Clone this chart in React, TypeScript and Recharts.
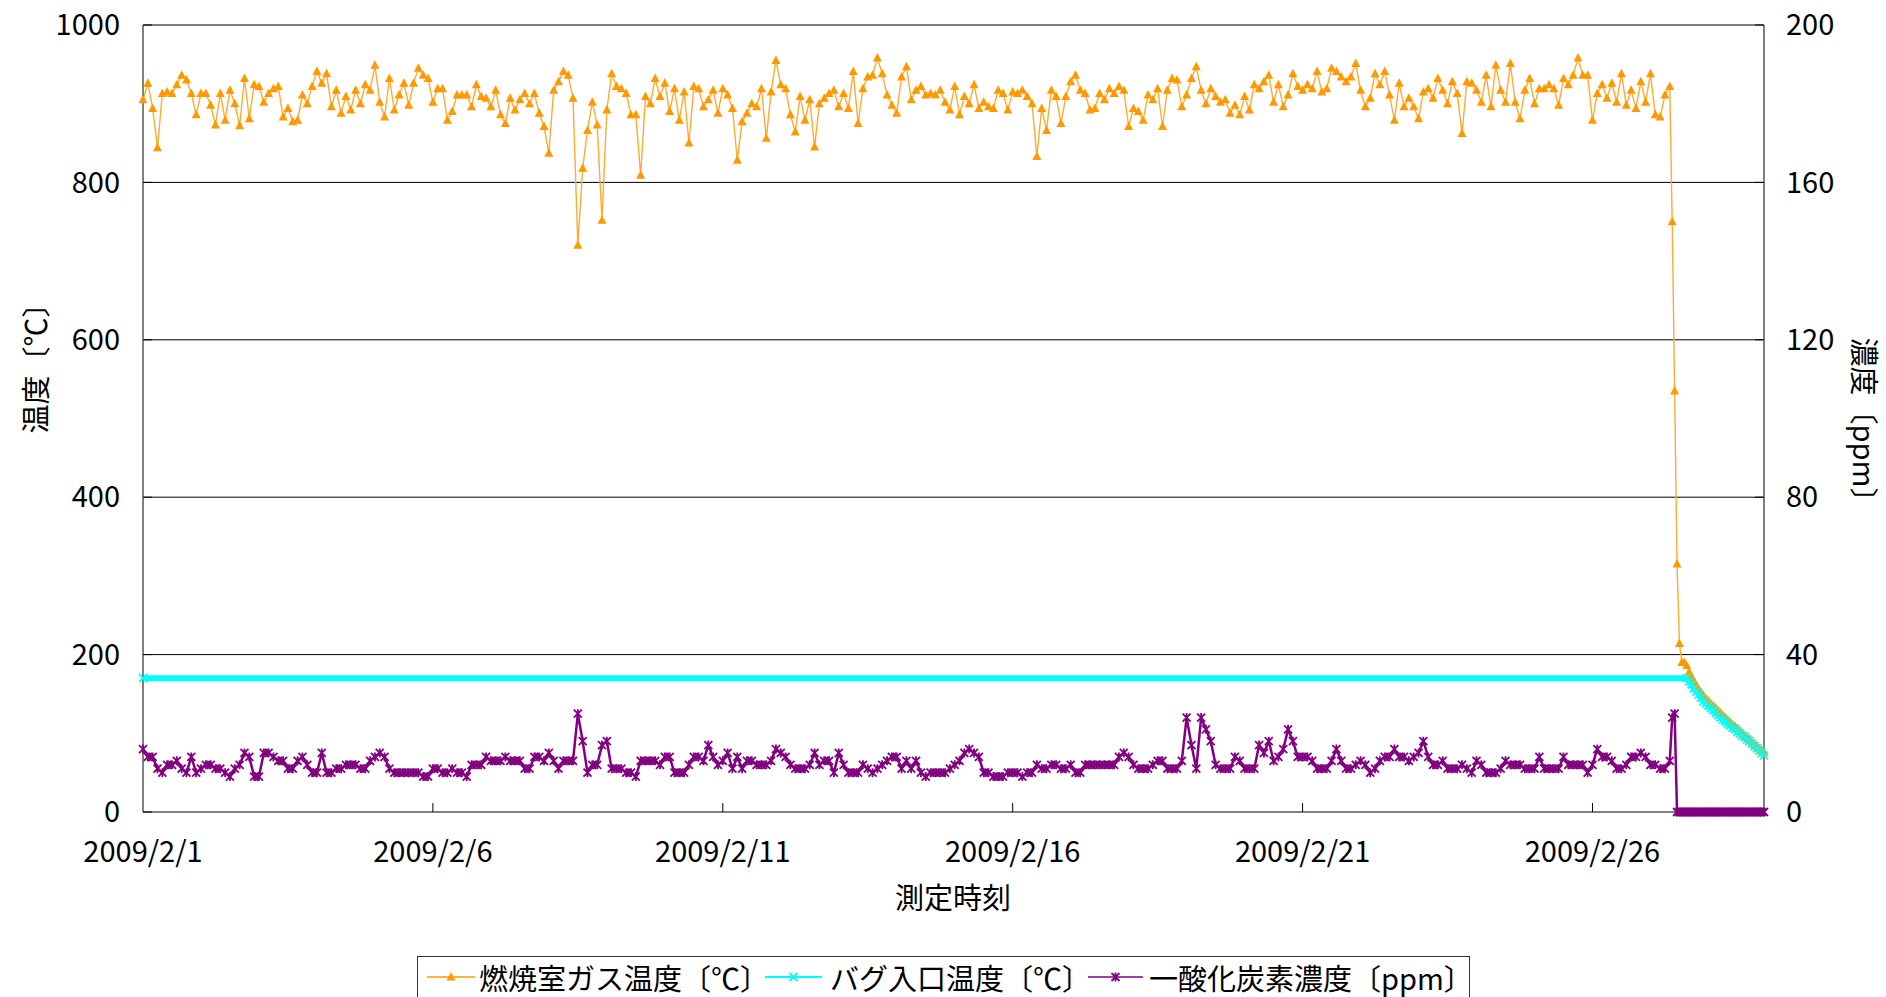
import React from 'react';
import { LineChart, Line, XAxis, YAxis, CartesianGrid } from 'recharts';

// x axis is hours since 2009/2/1 0:00
const DATE_TICKS = [0, 120, 240, 360, 480, 600];
const DATE_LABELS = ['2009/2/1', '2009/2/6', '2009/2/11', '2009/2/16', '2009/2/21', '2009/2/26'];
const TEMP_TICKS = [0, 200, 400, 600, 800, 1000];
const PPM_TICKS = [0, 40, 80, 120, 160, 200];

// 燃焼室ガス温度, every 2 hours from 2/1 0:00
const furnaceTemp = [
  905, 926, 894, 844, 913, 915, 913, 924, 936, 930,
  913, 886, 913, 913, 898, 873, 913, 879, 917, 900,
  872, 932, 881, 924, 922, 902, 913, 919, 922, 883,
  894, 877, 879, 911, 900, 922, 941, 926, 938, 896,
  917, 888, 909, 892, 917, 900, 924, 917, 949, 902,
  883, 932, 892, 911, 926, 898, 926, 945,
  936, 932, 902, 919, 919, 879, 890, 911, 911, 911,
  896, 924, 909, 907, 896, 917, 886, 875, 907, 892,
  905, 913, 900, 913, 888, 871, 837, 917, 928, 941,
  936, 907, 720, 818, 866, 902, 873, 752, 892, 938,
  922, 919, 913, 886, 886, 809, 909, 900, 932, 909,
  926, 890, 919, 879, 915, 850,
  922, 919, 896, 905, 917, 888, 919, 911, 894, 828,
  877, 888, 900, 896, 919, 856, 915, 955, 924, 919,
  886, 864, 909, 879, 905, 845, 900, 907, 913, 917,
  896, 913, 894, 941, 875, 919, 934, 936, 958, 938,
  911, 898, 888, 934, 947, 905, 917, 922, 911, 913,
  911, 917, 902, 892, 922, 886,
  909, 900, 924, 894, 902, 896, 894, 917, 913, 892,
  915, 913, 917, 909, 900, 833, 894, 866, 917, 909,
  875, 909, 928, 936, 917, 913, 892, 894, 913, 905,
  919, 913, 922, 917, 871, 894, 890, 879, 911, 905,
  919, 871, 917, 932, 930, 896, 911, 932, 947, 917,
  900, 919, 909, 902, 905, 888,
  898, 886, 909, 892, 924, 919, 928, 936, 902, 924,
  896, 911, 938, 922, 917, 924, 919, 941, 915, 919,
  945, 941, 934, 928, 934, 951, 917, 896, 907, 938,
  924, 941, 911, 879, 926, 896, 907, 896, 881, 915,
  919, 907, 932, 917, 900, 928, 913, 862, 928, 926,
  917, 902, 936, 896, 949,
  917, 902, 951, 902, 881, 917, 932, 900, 919, 919,
  924, 919, 898, 932, 924, 936, 958, 936, 936, 879,
  913, 924, 907, 926, 902, 938, 898, 917, 894, 928,
  902, 938, 886, 883, 911, 922,
];

// 一酸化炭素濃度, every 2 hours from 2/1 0:00
const coPpm = [
  16, 14, 14, 11, 10, 12, 12, 13, 11, 10,
  14, 10, 11, 12, 12, 11, 11, 10, 9, 11,
  12, 15, 14, 9, 9, 15, 15, 14, 13, 13,
  11, 11, 13, 14, 12, 10, 10, 15, 10, 10,
  11, 11, 12, 12, 12, 11, 11, 13, 14, 15,
  14, 11, 10, 10, 10, 10, 10, 10,
  9, 9, 11, 11, 10, 10, 11, 10, 10, 9,
  12, 12, 12, 14, 13, 13, 13, 14, 13, 13,
  13, 11, 11, 14, 14, 13, 15, 13, 11, 13,
  13, 13, 25, 18, 10, 12, 12, 17, 18, 11,
  11, 11, 10, 10, 9, 13, 13, 13, 13, 12,
  14, 14, 10, 10, 10, 12,
  14, 14, 13, 17, 14, 12, 13, 15, 11, 14,
  11, 13, 13, 12, 12, 12, 13, 16, 15, 14,
  12, 11, 11, 11, 12, 15, 12, 13, 13, 10,
  15, 12, 10, 10, 10, 12, 11, 10, 11, 12,
  13, 14, 14, 11, 13, 11, 13, 10, 9, 10,
  10, 10, 10, 11, 12, 13,
  15, 16, 15, 14, 10, 10, 9, 9, 9, 10,
  10, 10, 9, 10, 10, 12, 11, 11, 12, 12,
  11, 11, 12, 10, 10, 12, 12, 12, 12, 12,
  12, 12, 14, 15, 14, 12, 11, 11, 11, 12,
  13, 13, 11, 11, 11, 13, 24, 17, 11, 24,
  21, 18, 12, 11, 11, 11,
  14, 13, 11, 11, 11, 17, 15, 18, 13, 14,
  16, 21, 18, 14, 14, 14, 13, 11, 11, 11,
  13, 16, 13, 11, 11, 12, 13, 12, 10, 11,
  13, 14, 14, 16, 14, 14, 13, 14, 15, 18,
  14, 12, 12, 13, 11, 11, 11, 12, 11, 10,
  13, 12, 10, 10, 10,
  11, 13, 12, 12, 12, 11, 11, 11, 14, 11,
  11, 11, 11, 14, 12, 12, 12, 12, 10, 12,
  16, 14, 14, 13, 11, 11, 12, 14, 14, 15,
  14, 12, 12, 11, 11, 13,
];

// hourly readings after the furnace stop, from hour 633 (2/27 9:00)
const TAIL_START = 633;
const furnaceTempTail = [
  750, 535, 315, 214, 190, 190, 186, 178, 172, 166,
  161, 156, 152, 148, 144, 141, 138, 135, 132, 129,
  126, 123, 120, 117, 114, 111, 109, 106, 103, 100,
  97, 95, 92, 89, 86, 84, 81, 78, 76,
];
const coPpmTail = [
  24, 25, 0, 0, 0, 0, 0, 0, 0, 0,
  0, 0, 0, 0, 0, 0, 0, 0, 0, 0,
  0, 0, 0, 0, 0, 0, 0, 0, 0, 0,
  0, 0, 0, 0, 0, 0, 0, 0, 0,
];

// バグ入口温度: steady until hour 639, then hourly
const bagInletSteady = 170;
const BAG_DROP_START = 639;
const bagInletTail = [
  170, 166, 162, 157, 153, 149, 145, 141, 138, 135,
  132, 129, 126, 123, 120, 117, 115, 112, 110, 107,
  105, 102, 100, 97, 95, 92, 90, 87, 84, 81,
  78, 75, 72,
];

const ORANGE = '#FF9900';
const CYAN = '#00FFFF';
const PURPLE = '#800080';
const FONT = '"Noto Sans CJK JP", "Noto Sans", sans-serif';

const furnaceSeries = [
  ...furnaceTemp.map((v, i) => ({ h: i * 2, v })),
  ...furnaceTempTail.map((v, i) => ({ h: TAIL_START + i, v })),
];
const coSeries = [
  ...coPpm.map((v, i) => ({ h: i * 2, v })),
  ...coPpmTail.map((v, i) => ({ h: TAIL_START + i, v })),
];
const bagSeries = [
  { h: 0, v: bagInletSteady },
  ...bagInletTail.map((v, i) => ({ h: BAG_DROP_START + i, v })),
];

const triangle = (cx: number, cy: number) =>
  `M${cx},${cy - 5}L${cx + 4.5},${cy + 3.5}L${cx - 4.5},${cy + 3.5}Z`;
const cross = (cx: number, cy: number, r: number) =>
  `M${cx - r},${cy - r}L${cx + r},${cy + r}M${cx + r},${cy - r}L${cx - r},${cy + r}`;
const star = (cx: number, cy: number) => `${cross(cx, cy, 4)}M${cx},${cy - 4.5}L${cx},${cy + 4.5}`;

const TriangleDot = (p: any) => {
  const { cx, cy, index } = p;
  if (cx == null || cy == null) return <g key={index} />;
  return <path key={index} d={triangle(cx, cy)} fill={ORANGE} />;
};

const CrossDot = (p: any) => {
  const { cx, cy, index } = p;
  if (cx == null || cy == null) return <g key={index} />;
  return <path key={index} d={cross(cx, cy, 4)} stroke={CYAN} strokeWidth={1.8} fill="none" />;
};

const StarDot = (p: any) => {
  const { cx, cy, index } = p;
  if (cx == null || cy == null) return <g key={index} />;
  return <path key={index} d={star(cx, cy)} stroke={PURPLE} strokeWidth={1.8} fill="none" />;
};

const LEGEND = [
  { name: '燃焼室ガス温度〔℃〕', color: ORANGE, kind: 'tri', left: 427, width: 48, textLeft: 479 },
  { name: 'バグ入口温度〔℃〕', color: CYAN, kind: 'x', left: 765, width: 57, textLeft: 830 },
  { name: '一酸化炭素濃度〔ppm〕', color: PURPLE, kind: 'star', left: 1088, width: 55, textLeft: 1149 },
];

function LegendMark({ kind, color, width }: { kind: string; color: string; width: number }) {
  const cx = width / 2;
  const cy = 10;
  let mark;
  if (kind === 'tri') mark = <path d={triangle(cx, cy)} fill={color} />;
  else if (kind === 'x') mark = <path d={cross(cx, cy, 4)} stroke={color} strokeWidth={1.8} />;
  else mark = <path d={star(cx, cy)} stroke={color} strokeWidth={1.8} />;
  return (
    <svg width={width} height={20} style={{ display: 'block' }}>
      <line x1={0} y1={cy} x2={width} y2={cy} stroke={color} strokeWidth={kind === 'x' ? 2 : 1.5} />
      {mark}
    </svg>
  );
}

const tickStyle = { fill: '#000', fontSize: 29, fontFamily: FONT };

export default function App() {
  return (
    <div
      style={{
        position: 'absolute',
        left: 0,
        top: 0,
        width: 1886,
        height: 997,
        overflow: 'hidden',
        background: '#fff',
        fontFamily: FONT,
        color: '#000',
      }}
    >
      <LineChart width={1886} height={997} margin={{ top: 25, right: 0, bottom: 125, left: 0 }}>
        <CartesianGrid vertical={false} stroke="#000" strokeWidth={1} />
        <XAxis
          type="number"
          dataKey="h"
          domain={[0, 671]}
          ticks={DATE_TICKS}
          interval={0}
          tickFormatter={(h: number) => DATE_LABELS[DATE_TICKS.indexOf(h)]}
          tick={tickStyle}
          tickSize={-9}
          tickMargin={38}
          tickLine={{ stroke: '#000' }}
          axisLine={{ stroke: '#808080', strokeWidth: 2 }}
          height={60}
        />
        <YAxis
          domain={[0, 1000]}
          ticks={TEMP_TICKS}
          interval={0}
          tick={tickStyle}
          tickSize={-9}
          tickMargin={32}
          tickLine={{ stroke: '#000' }}
          axisLine={{ stroke: '#808080', strokeWidth: 2 }}
          width={143}
        />
        <YAxis
          yAxisId="ppm"
          orientation="right"
          domain={[0, 200]}
          ticks={PPM_TICKS}
          interval={0}
          tick={tickStyle}
          tickSize={-9}
          tickMargin={31}
          tickLine={{ stroke: '#000' }}
          axisLine={{ stroke: '#808080', strokeWidth: 2 }}
          width={122}
        />
        <Line
          data={furnaceSeries}
          dataKey="v"
          type="linear"
          stroke="#FFAA33"
          strokeWidth={1.4}
          dot={TriangleDot}
          activeDot={false}
          isAnimationActive={false}
        />
        <Line
          data={bagSeries}
          dataKey="v"
          type="linear"
          stroke={CYAN}
          strokeWidth={6}
          dot={CrossDot}
          activeDot={false}
          isAnimationActive={false}
        />
        <Line
          data={coSeries}
          yAxisId="ppm"
          dataKey="v"
          type="linear"
          stroke={PURPLE}
          strokeWidth={2.5}
          dot={StarDot}
          activeDot={false}
          isAnimationActive={false}
        />
      </LineChart>

      <div
        style={{
          position: 'absolute',
          left: 34,
          top: 361,
          transform: 'translate(-50%, -50%) rotate(-90deg)',
          fontSize: 29,
          lineHeight: 1,
          whiteSpace: 'nowrap',
        }}
      >
        温度〔℃〕
      </div>
      <div
        style={{
          position: 'absolute',
          left: 1865,
          top: 427,
          transform: 'translate(-50%, -50%) rotate(90deg)',
          fontSize: 29,
          lineHeight: 1,
          whiteSpace: 'nowrap',
        }}
      >
        濃度〔ppm〕
      </div>
      <div
        style={{
          position: 'absolute',
          left: 953,
          top: 896,
          transform: 'translate(-50%, -50%)',
          fontSize: 29,
          lineHeight: 1,
          whiteSpace: 'nowrap',
        }}
      >
        測定時刻
      </div>

      <div
        style={{
          position: 'absolute',
          left: 417,
          top: 956,
          width: 1053,
          height: 60,
          border: '1.5px solid #333',
          boxSizing: 'border-box',
        }}
      />
      {LEGEND.map((item) => (
        <React.Fragment key={item.name}>
          <div style={{ position: 'absolute', left: item.left, top: 967 }}>
            <LegendMark kind={item.kind} color={item.color} width={item.width} />
          </div>
          <div
            style={{
              position: 'absolute',
              left: item.textLeft,
              top: 977,
              transform: 'translateY(-50%)',
              fontSize: 29,
              whiteSpace: 'nowrap',
              lineHeight: 1,
            }}
          >
            {item.name}
          </div>
        </React.Fragment>
      ))}
    </div>
  );
}
